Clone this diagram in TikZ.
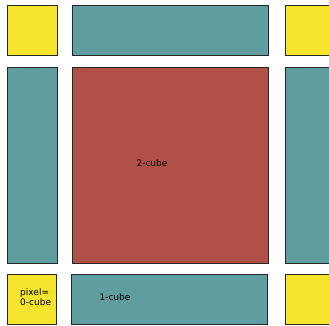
\documentclass[tikz,border=0pt]{standalone}
\usepackage{fontspec}
\setmainfont{DejaVu Sans}
\definecolor{cyel}{HTML}{F4E42C}
\definecolor{cteal}{HTML}{5F9DA0}
\definecolor{cred}{HTML}{B05046}
\begin{document}
\begin{tikzpicture}[x=1pt,y=-1pt,
  cell/.style={draw=black!85,line width=1pt},
  lbl/.style={font=\fontsize{9}{10.5}\selectfont,inner sep=0pt}]
\useasboundingbox (0,0) rectangle (329,325);
\clip (0,0) rectangle (329,325);
% row 1
\filldraw[cell,fill=cyel] (7,5) rectangle (57,55);
\filldraw[cell,fill=cteal] (72,5) rectangle (268,55);
\filldraw[cell,fill=cyel] (285,5) rectangle (335,55);
% row 2
\filldraw[cell,fill=cteal] (7,67) rectangle (57,263);
\filldraw[cell,fill=cred] (72,67) rectangle (268,263);
\filldraw[cell,fill=cteal] (285,67) rectangle (335,263);
% row 3
\filldraw[cell,fill=cyel] (7,274) rectangle (56,324);
\filldraw[cell,fill=cteal] (71,274) rectangle (267,324);
\filldraw[cell,fill=cyel] (285,274) rectangle (335,324);
% labels
\node[lbl] (t2) at (152,163) {2-cube};
\node[lbl] (t1) at (115,297) {1-cube};
\node[lbl,align=left,anchor=west] (t0) at (20,297) {pixel=\\0-cube};
\end{tikzpicture}
\end{document}
